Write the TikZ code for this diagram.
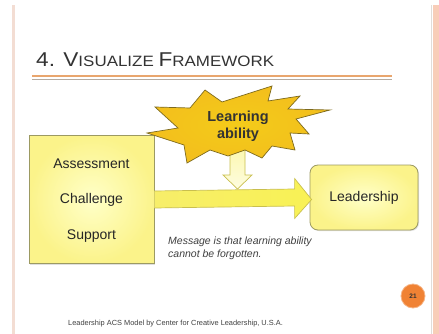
\documentclass[tikz,border=0pt]{standalone}
\usepackage{fontspec}
\usepackage{graphicx}
\setmainfont{Liberation Sans}
\usetikzlibrary{calc,shadows}
\definecolor{peach}{HTML}{F8CDB8}
\definecolor{peachlight}{HTML}{F3DDD3}
\definecolor{titlegray}{HTML}{333333}
\definecolor{lineorange}{HTML}{E9A66E}
\definecolor{linegray}{HTML}{B5ABA0}
\definecolor{boxfill}{HTML}{FBF38A}
\definecolor{boxfillin}{HTML}{FFFFC8}
\definecolor{boxdraw}{HTML}{9C9A62}
\definecolor{starfill}{HTML}{F2C21E}
\definecolor{stardraw}{HTML}{7D6A1E}
\definecolor{arrowfill}{HTML}{F7EE6A}
\definecolor{arrowdraw}{HTML}{C9BF4E}
\definecolor{downfill}{HTML}{FCF8B0}
\definecolor{circorange}{HTML}{F08234}
\tikzset{
  boxstyle/.style={draw=boxdraw, line width=0.8pt, inner color=boxfillin, outer color=boxfill},
  bodytext/.style={font=\fontsize{14}{16}\selectfont, text=black!85},
}
\begin{document}
\begin{tikzpicture}[x=1pt,y=-1pt]
\useasboundingbox (0,0) rectangle (439,334);
\fill[white] (0,0) rectangle (439,334);
% slide borders
\fill[peachlight] (12,5) rectangle (15,334);
\fill[linegray!40] (430.5,5) rectangle (431.5,334);
\fill[peach] (433,5) rectangle (439,334);
% title
\node[anchor=base west, inner sep=0, text=titlegray] (title) at (36,67)
  {\scalebox{1.13}[1]{\fontsize{20}{20}\selectfont 4. V\fontsize{15}{15}\selectfont ISUALIZE \fontsize{20}{20}\selectfont F\fontsize{15}{15}\selectfont RAMEWORK}};
\draw[lineorange, line width=2pt] (32,76) -- (392,76);
\draw[linegray, line width=1pt] (32,79.5) -- (392,79.5);
% left box
\node[boxstyle, minimum width=125pt, minimum height=128pt, inner sep=0,
      drop shadow={shadow xshift=1pt, shadow yshift=-1pt, opacity=0.25}] (acs) at (91.5,199.5) {};
\node[bodytext] (assess) at (91.5,164) {Assessment};
\node[bodytext] (chall) at (91.5,200) {Challenge};
\node[bodytext] (supp) at (91.5,236) {Support};
% leadership box
\node[boxstyle, rounded corners=8pt, minimum width=108pt, minimum height=65pt, inner sep=0,
      drop shadow={shadow xshift=1pt, shadow yshift=-1pt, opacity=0.25}] (lead) at (364,197.5) {};
\node[bodytext] (leadtext) at (lead.center) {Leadership};
% down arrow (behind star)
\coordinate (downtop) at (237.5,148);
\draw[arrowdraw, line width=0.7pt, top color=downfill, bottom color=white!60!downfill]
  ($(downtop)+(-7.5,0)$) -- ($(downtop)+(7.5,0)$) -- ($(downtop)+(7.5,27)$) -- ($(downtop)+(14.5,27)$)
  -- ($(downtop)+(0,41)$) -- ($(downtop)+(-14.5,27)$) -- ($(downtop)+(-7.5,27)$) -- cycle;
% star
\coordinate (star) at (238,125);
\draw[stardraw, line width=0.7pt, inner color=starfill!85!yellow, outer color=starfill!95!orange, line join=miter]
  (147,133) -- (178,128) -- (155,107) -- (190,108) -- (205,90) -- (222,102) -- (272,86) -- (268,101)
  -- (300,96) -- (288,109) -- (330,110) -- (296,119) -- (309,134) -- (290,133) -- (295,150)
  -- (272,146) -- (262,158) -- (245,150) -- (228,156) -- (210,150) -- (187,163) -- (184,145) -- cycle;
\node[font=\fontsize{14.5}{17}\selectfont\bfseries, text=black!80, align=center] (learn) at (238,126)
  {Learning\\ability};
% horizontal arrow
\draw[arrowdraw, line width=0.7pt, left color=arrowfill, right color=arrowfill!80!yellow]
  ($(acs.east)+(0,-8.5)$) -- ($(lead.west)+(-15,-8.5)$) -- ($(lead.west)+(-15,-19)$) -- ($(lead.west)+(2,2)$)
  -- ($(lead.west)+(-15,21)$) -- ($(lead.west)+(-15,8.5)$) -- ($(acs.east)+(0,8.5)$);
% message
\node[anchor=base west, inner sep=0, align=left, font=\fontsize{10.5}{13}\selectfont\itshape, text=black!75] (msg) at (168,257)
  {Message is that learning ability\\cannot be forgotten.};
% page number
\node[circle, fill=circorange, draw=circorange!60, line width=0.8pt, minimum size=24pt, inner sep=0,
      font=\fontsize{6.5}{7}\selectfont\bfseries, text=black!80] (page) at (413,296) {21};
% footer
\node[anchor=base west, inner sep=0, font=\fontsize{7.4}{8}\selectfont, text=black!75] (foot) at (68,325)
  {Leadership ACS Model by Center for Creative Leadership, U.S.A.};
\end{tikzpicture}
\end{document}
